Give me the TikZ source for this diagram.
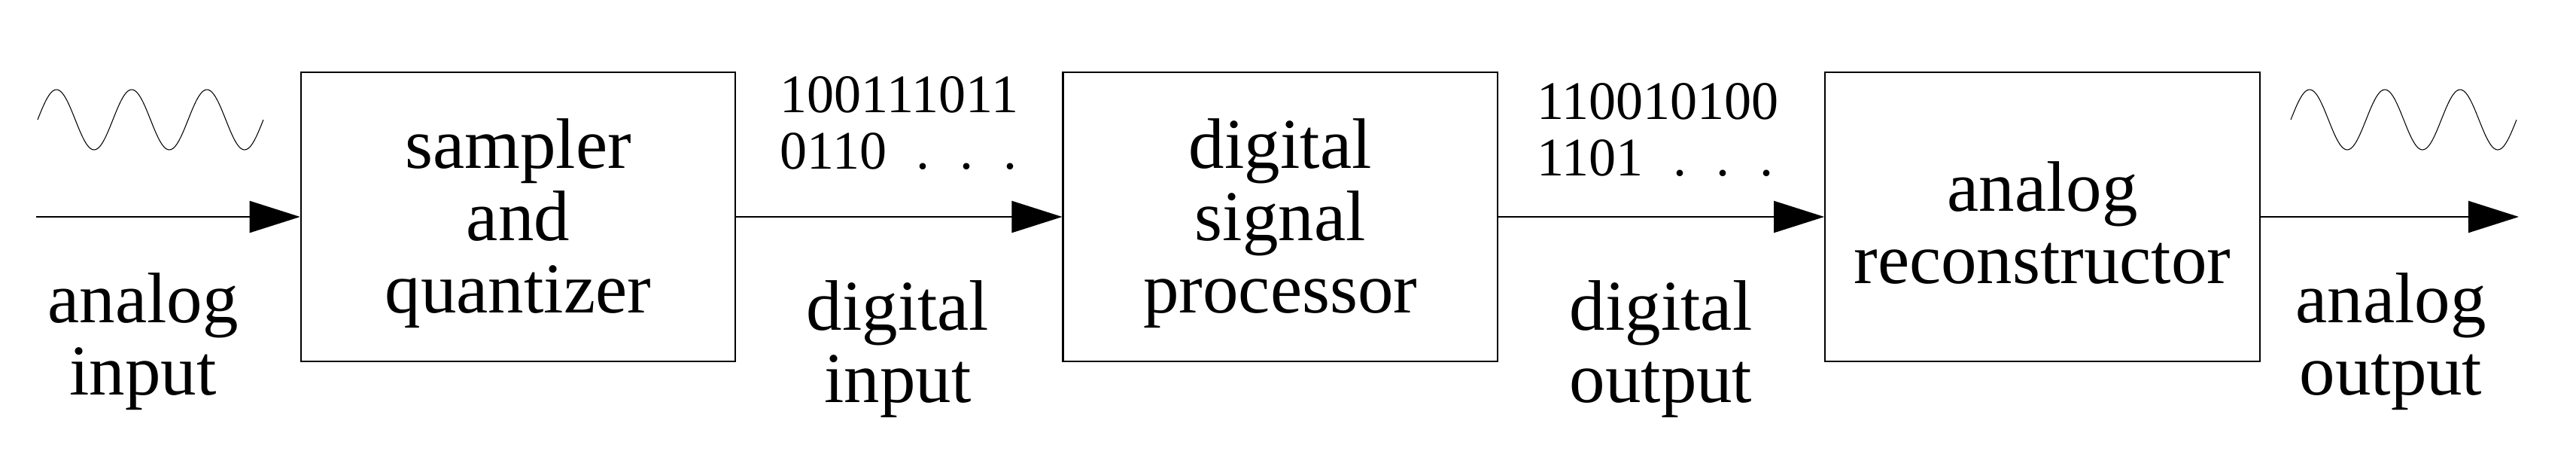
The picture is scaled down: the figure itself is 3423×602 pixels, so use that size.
\documentclass[tikz,border=0pt]{standalone}
\usepackage{fontspec}
\setmainfont{Liberation Serif}
\usepackage{tikz}
\usetikzlibrary{arrows.meta,positioning}

\newcommand{\boxfont}{\fontsize{27}{27.3}\selectfont}
\newcommand{\bitfont}{\fontsize{20.5}{21.2}\selectfont}
\newcommand{\dotgap}{\hspace{0.55em}}
\newcommand{\bs}{\rule{0pt}{0.87em}}

\begin{document}
\begin{tikzpicture}[x=0.01cm, y=-0.01cm,
		block/.style  = {draw, line width=0.6pt, minimum width=5.77cm, minimum height=3.84cm, inner sep=0pt, align=center, font=\boxfont},
		signal/.style = {inner sep=0pt, anchor=north, align=center, font=\boxfont},
		bits/.style   = {inner sep=0pt, anchor=north, align=left, font=\bitfont},
		flow/.style   = {->, line width=0.6pt},
		wave/.style   = {line width=0.3pt},
		>={Triangle[length=6.7mm, width=4.2mm]}]
		
		\useasboundingbox (0,0) rectangle (3423,602);
		
		% the three blocks, placed one after another
		\node[block] (sq) at (688.5,288) {\bs sampler\\and\\quantizer};
		\node[block, right=4.33cm of sq] (dsp) {\bs digital\\signal\\processor};
		\node[block, right=4.33cm of dsp] (rec) {\bs analog\\reconstructor};
		
		% free ends of the outer arrows
		\coordinate (ain) at (48,288);
		\coordinate (aout) at (3347,288);
		
		% signal flow
		\draw[flow] (ain) -- (sq.west);
		\draw[flow] (sq.east) -- (dsp.west);
		\draw[flow] (dsp.east) -- (rec.west);
		\draw[flow] (rec.east) -- (aout);
		
		% names of the signals, below the arrows
		\node[signal] (ai) at (190,362) {analog\\input};
		\node[signal] (di) at (1193,372) {digital\\input};
		\node[signal] (do) at (2207,372) {digital\\output};
		\node[signal] (ao) at (3177,362) {analog\\output};
		
		% bit streams, above the arrows
		\node[bits] (bi) at (1195,101) {100111011\\0110\dotgap.\dotgap.\dotgap.};
		\node[bits] (bo) at (2203,110) {110010100\\1101\dotgap.\dotgap.\dotgap.};
		
		% analog waveforms
		\foreach \wx in {50,3044}
		\draw[wave] plot[variable=\t, domain=0:3, samples=121, smooth] ({\wx+100*\t}, {159-40*sin(360*\t)});
		
	\end{tikzpicture}
\end{document}
